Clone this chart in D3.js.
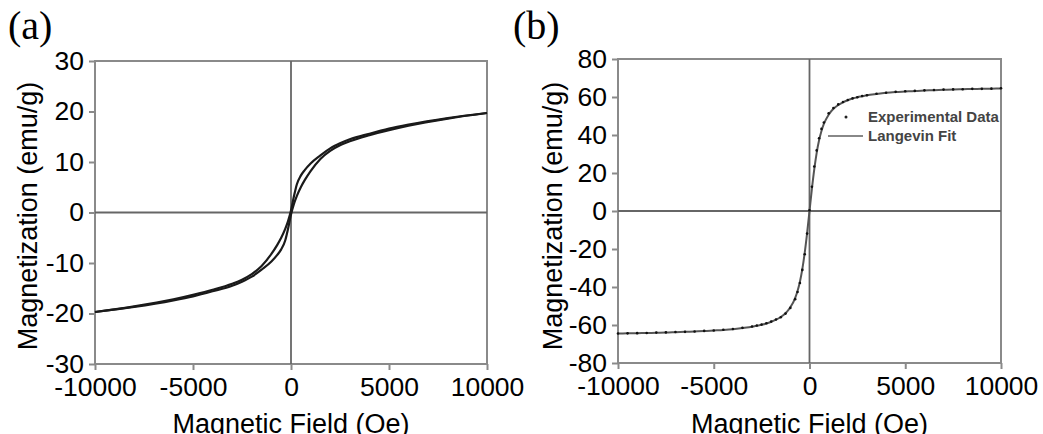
<!DOCTYPE html>
<html>
<head>
<meta charset="utf-8">
<script src="https://cdn.jsdelivr.net/npm/d3@7"></script>
<style>
  body { margin: 0; background: #fff; }
  svg { display: block; }
</style>
</head>
<body>
<script>
// field axis shared by both panels
const fieldTicks = [-10000, -5000, 0, 5000, 10000];

// (a) hysteresis loop, two sweep branches
const fieldA = [-10000, -8000, -6000, -5000, -4000, -3000, -2500, -2000, -1500, -1000, -700, -500, -300, -150, 0,
  150, 300, 500, 700, 1000, 1500, 2000, 2500, 3000, 4000, 5000, 6000, 8000, 10000];
const branchDown = [-19.7, -18.6, -17.2, -16.3, -15.3, -14.1, -13.3, -12.2, -10.6, -8.2, -6.4, -5.0, -3.3, -1.7, 0.4,
  3.2, 5.6, 7.3, 8.4, 9.7, 11.3, 12.7, 13.7, 14.5, 15.6, 16.6, 17.4, 18.7, 19.7];
const branchUp = [-19.7, -18.7, -17.4, -16.6, -15.6, -14.5, -13.7, -12.7, -11.3, -9.7, -8.4, -7.3, -5.6, -3.2, -0.4,
  1.7, 3.3, 5.0, 6.4, 8.2, 10.6, 12.2, 13.3, 14.1, 15.3, 16.3, 17.2, 18.6, 19.7];
const magTicksA = [-30, -20, -10, 0, 10, 20, 30];

// (b) experimental data + Langevin fit
const fieldB = [-10000, -9500, -9000, -8500, -8000, -7500, -7000, -6500, -6000, -5500, -5000, -4500, -4000, -3500,
  -3000, -2750, -2500, -2250, -2000, -1750, -1500, -1250, -1000, -750, -625, -500, -375, -250, -125, 0,
  125, 250, 375, 500, 625, 750, 1000, 1250, 1500, 1750, 2000, 2250, 2500, 2750, 3000, 3500, 4000, 4500,
  5000, 5500, 6000, 6500, 7000, 7500, 8000, 8500, 9000, 9500, 10000];
const expData = [-64.5, -64.4, -64.3, -64.2, -64.0, -63.9, -63.7, -63.6, -63.4, -63.1, -62.9, -62.5, -62.1, -61.5,
  -60.8, -60.3, -59.8, -59.1, -58.2, -57.1, -55.9, -54.0, -51.0, -46.4, -42.6, -37.9, -31.0, -22.8, -11.9, 0.4,
  12.8, 23.4, 31.9, 38.3, 43.2, 46.6, 51.4, 54.2, 56.1, 57.4, 58.4, 59.3, 59.9, 60.5, 60.9, 61.7, 62.2, 62.7,
  63.0, 63.2, 63.5, 63.7, 63.9, 64.0, 64.1, 64.3, 64.3, 64.4, 64.6];
const langevinFit = [-64.5, -64.4, -64.3, -64.2, -64.1, -64.0, -63.8, -63.6, -63.4, -63.2, -62.9, -62.6, -62.2, -61.6,
  -60.9, -60.4, -59.9, -59.2, -58.3, -57.2, -55.8, -53.8, -50.7, -45.8, -42.1, -37.2, -30.6, -22.0, -11.6, 0,
  11.6, 22.0, 30.6, 37.2, 42.1, 45.8, 50.7, 53.8, 55.8, 57.2, 58.3, 59.2, 59.9, 60.4, 60.9, 61.6, 62.2, 62.6,
  62.9, 63.2, 63.4, 63.6, 63.8, 64.0, 64.1, 64.2, 64.3, 64.4, 64.5];
const magTicksB = [-80, -60, -40, -20, 0, 20, 40, 60, 80];

const sans = "'Liberation Sans', Arial, sans-serif";
const serif = "'Liberation Serif', 'Times New Roman', serif";

const svg = d3.select("body").append("svg")
  .attr("width", 1043)
  .attr("height", 434);

function drawPanel(p) {
  const x = d3.scaleLinear().domain([-10000, 10000]).range([p.left, p.right]);
  const y = d3.scaleLinear().domain([p.yTicks[0], p.yTicks[p.yTicks.length - 1]]).range([p.bottom, p.top]);
  const g = svg.append("g");

  // panel letter
  g.append("text")
    .attr("x", p.letterX).attr("y", 39)
    .style("font-family", serif).style("font-size", "40px")
    .text(p.letter);

  // axes (ticks + labels only, frame drawn separately)
  const yAxis = g.append("g")
    .attr("transform", `translate(${p.left},0)`)
    .call(d3.axisLeft(y).tickValues(p.yTicks).tickSize(6).tickPadding(5).tickFormat(d => String(d)));
  const xAxis = g.append("g")
    .attr("transform", `translate(0,${p.bottom})`)
    .call(d3.axisBottom(x).tickValues(fieldTicks).tickSize(6).tickPadding(7).tickFormat(d => String(d)));
  [yAxis, xAxis].forEach(a => {
    a.select(".domain").remove();
    a.selectAll(".tick line").attr("stroke", "#8a8a8a").attr("stroke-width", 2);
    a.selectAll(".tick text")
      .attr("fill", "#000")
      .style("font-family", sans).style("font-size", "26.5px");
  });

  // frame
  g.append("rect")
    .attr("x", p.left).attr("y", p.top)
    .attr("width", p.right - p.left).attr("height", p.bottom - p.top)
    .attr("fill", "none").attr("stroke", "#8a8a8a").attr("stroke-width", 2);

  // zero lines
  g.append("line")
    .attr("x1", x(0)).attr("x2", x(0)).attr("y1", p.top).attr("y2", p.bottom)
    .attr("stroke", "#666").attr("stroke-width", 1.8);
  g.append("line")
    .attr("x1", p.left).attr("x2", p.right).attr("y1", y(0)).attr("y2", y(0))
    .attr("stroke", "#666").attr("stroke-width", 1.8);

  // axis titles
  g.append("text")
    .attr("x", (p.left + p.right) / 2).attr("y", 433)
    .attr("text-anchor", "middle")
    .style("font-family", sans).style("font-size", "27px")
    .text("Magnetic Field (Oe)");
  g.append("text")
    .attr("transform", `translate(${p.titleX},216) rotate(-90)`)
    .attr("text-anchor", "middle")
    .style("font-family", sans).style("font-size", "27px")
    .text("Magnetization (emu/g)");

  return { g, x, y };
}

// ---- panel (a)
const a = drawPanel({ letter: "(a)", letterX: 8, left: 95, right: 487, top: 61, bottom: 364, yTicks: magTicksA, titleX: 37 });
const lineA = d3.line().x(d => a.x(d[0])).y(d => a.y(d[1])).curve(d3.curveMonotoneX);
[branchDown, branchUp].forEach(branch => {
  a.g.append("path")
    .datum(fieldA.map((f, i) => [f, branch[i]]))
    .attr("d", lineA)
    .attr("fill", "none")
    .attr("stroke", "#1a1a1a")
    .attr("stroke-width", 2.2);
});

// ---- panel (b)
const b = drawPanel({ letter: "(b)", letterX: 513, left: 618, right: 1001, top: 59, bottom: 363, yTicks: magTicksB, titleX: 562 });
const lineB = d3.line().x(d => b.x(d[0])).y(d => b.y(d[1])).curve(d3.curveMonotoneX);
b.g.append("path")
  .datum(fieldB.map((f, i) => [f, langevinFit[i]]))
  .attr("d", lineB)
  .attr("fill", "none")
  .attr("stroke", "#555")
  .attr("stroke-width", 2);
b.g.selectAll("circle.exp")
  .data(fieldB.map((f, i) => [f, expData[i]]))
  .enter().append("circle")
  .attr("class", "exp")
  .attr("cx", d => b.x(d[0]))
  .attr("cy", d => b.y(d[1]))
  .attr("r", 1.3)
  .attr("fill", "#111");

// legend
const leg = b.g.append("g").style("font-family", sans).style("font-size", "15px").style("font-weight", "bold").attr("fill", "#444");
leg.append("circle").attr("cx", 846).attr("cy", 117).attr("r", 1.5).attr("fill", "#222");
leg.append("text").attr("x", 868).attr("y", 122).text("Experimental Data");
leg.append("line").attr("x1", 828).attr("x2", 863).attr("y1", 136).attr("y2", 136)
  .attr("stroke", "#888").attr("stroke-width", 2);
leg.append("text").attr("x", 868).attr("y", 141).text("Langevin Fit");
</script>
</body>
</html>
